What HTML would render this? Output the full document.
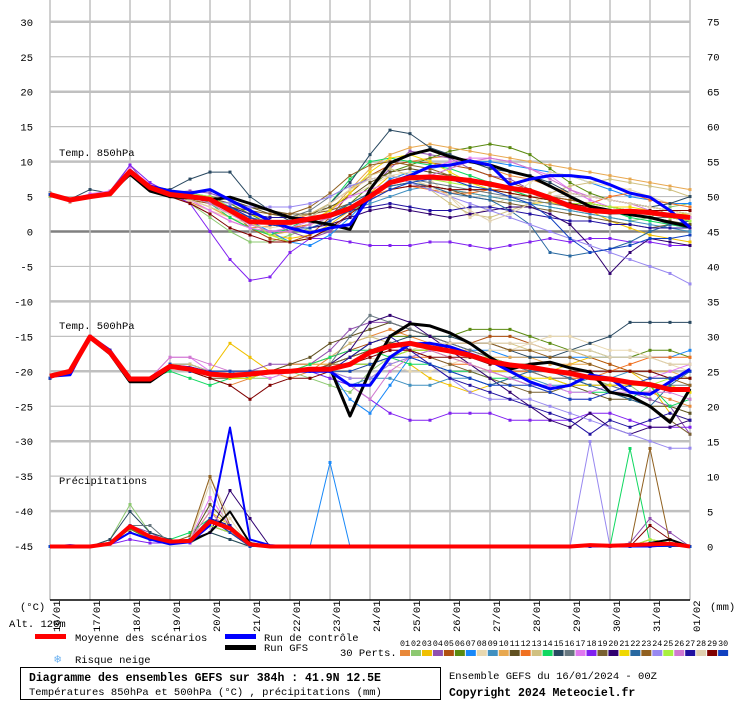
<!DOCTYPE html>
<html><head><meta charset="utf-8">
<style>
html,body{margin:0;padding:0;background:#fff;}
body{width:740px;height:700px;overflow:hidden;position:relative;font-family:"Liberation Mono",monospace;}
svg text{font-family:"Liberation Mono","DejaVu Sans Mono",monospace;}
</style></head>
<body>
<svg id="chart" width="740" height="700" viewBox="0 0 740 700" xmlns="http://www.w3.org/2000/svg">
<g id="grid"></g>
<g id="axes"></g>
<g id="series"></g>
<text x="59" y="156" font-size="10.5">Temp. 850hPa</text>
<text x="59" y="329" font-size="10.5">Temp. 500hPa</text>
<text x="59" y="484" font-size="10.5">Précipitations</text>
<text x="20" y="610" font-size="10.5">(°C)</text>
<text x="710" y="610" font-size="10.5">(mm)</text>
<text x="9" y="627" font-size="10.5">Alt. 120m</text>
<g>
<rect x="35" y="634" width="31" height="5" fill="#ff0000"/>
<text x="75" y="641" font-size="10.5">Moyenne des scénarios</text>
<rect x="225" y="634" width="31" height="5" fill="#0000ff"/>
<text x="264" y="641" font-size="10.5">Run de contrôle</text>
<rect x="225" y="645" width="31" height="5" fill="#000"/>
<text x="264" y="651" font-size="10.5">Run GFS</text>
<text x="54" y="663" font-size="12" fill="#6ab0f0">❄</text>
<text x="75" y="663" font-size="10.5">Risque neige</text>
<text x="340" y="656" font-size="10.5">30 Perts.</text>
<g id="pertlegend"></g>
</g>
<rect x="20.5" y="667.5" width="420" height="32" fill="none" stroke="#000"/>
<text x="29" y="681" font-size="11.5" font-weight="bold">Diagramme des ensembles GEFS sur 384h : 41.9N 12.5E</text>
<text x="29" y="695" font-size="10.5">Températures 850hPa et 500hPa (°C) , précipitations (mm)</text>
<text x="449" y="679" font-size="10.5">Ensemble GEFS du 16/01/2024 - 00Z</text>
<text x="449" y="696" font-size="11.5" font-weight="bold">Copyright 2024 Meteociel.fr</text>
</svg>
<script>
const dateLabels=['16/01','17/01','18/01','19/01','20/01','21/01','22/01','23/01','24/01','25/01','26/01','27/01','28/01','29/01','30/01','31/01','01/02'];
const leftTicks=[30,25,20,15,10,5,0,-5,-10,-15,-20,-25,-30,-35,-40,-45];
const rightTicks=[75,70,65,60,55,50,45,40,35,30,25,20,15,10,5,0];
const pertColors=['#e8883a','#8cc870','#f0c000','#9050b0','#b05010','#5a8a10','#1888f8','#e8d8b0','#4090c0','#e8a850','#605020','#f07020','#d0c080','#10d860','#284860','#687880','#e078f0','#8020f0','#786030','#300070','#f0d800','#2868a0','#906020','#9888f0','#a8f040','#d078d0','#2010a0','#e0d0b0','#800000','#1040c0'];

const t850Mean=[5.3,4.5,5.0,5.4,8.6,6.3,5.3,5.0,4.6,3.0,1.4,1.3,1.3,1.8,2.3,3.3,5.0,7.0,7.7,7.8,7.6,7.3,6.8,6.2,5.8,4.8,3.6,3.0,2.8,2.9,2.7,2.3,2.0];
const t850Control=[5.3,4.6,5.1,5.3,8.5,6.5,5.8,5.5,6.0,4.5,3.0,1.5,0.5,-0.2,0.5,1.0,5.0,7.0,8.0,9.3,9.5,10.1,9.5,6.7,7.5,8.0,8.0,7.7,6.7,5.5,4.9,3.0,0.6];
const t850Gfs=[5.4,4.5,5.0,5.5,8.2,5.8,5.0,4.8,4.5,4.9,4.0,3.0,2.0,1.5,1.0,0.3,6.0,9.8,11.0,11.7,10.7,10.0,9.5,8.6,7.9,6.5,5.0,3.6,3.0,2.4,2.0,1.3,0.7];
const t850Perts=[
[5.5,4.2,5.2,5.6,8.0,6.0,5.0,4.2,3.0,1.5,0.5,0.8,1.5,2.5,4.0,6.0,8.0,9.5,10.0,10.5,10.8,10.0,9.0,8.0,7.5,6.5,5.5,5.0,4.5,4.0,3.5,3.0,2.5],
[5.0,4.4,5.0,5.2,8.2,6.5,5.5,4.0,2.0,0.0,-1.5,-1.5,-0.5,0.5,1.5,3.0,5.5,6.5,7.0,6.5,6.0,5.5,5.0,4.5,4.0,3.5,3.0,2.5,2.0,1.5,2.0,3.5,4.0],
[5.4,4.6,5.1,5.5,8.6,6.4,5.2,4.5,3.5,2.0,0.5,-0.5,-1.0,-0.5,1.0,3.0,5.5,8.0,7.5,6.5,6.0,5.5,5.0,4.5,4.0,4.2,3.5,3.0,1.5,0.5,-0.5,-1.0,-1.5],
[5.2,4.3,5.3,5.8,9.5,6.2,5.6,5.8,5.5,4.5,3.0,1.5,0.0,-1.0,0.0,2.5,6.0,9.0,11.5,11.0,10.5,9.0,8.0,7.5,6.0,5.0,4.0,3.0,2.5,2.5,2.0,1.0,0.5],
[5.5,4.5,5.0,5.3,8.4,6.1,5.2,5.0,4.5,3.0,0.5,-1.0,-1.5,-0.5,2.0,5.5,8.0,9.5,10.0,9.8,9.5,9.0,8.0,7.0,6.0,5.0,4.5,4.0,3.5,3.0,3.0,2.5,2.0],
[5.3,4.5,5.0,5.4,8.5,6.2,5.3,5.0,4.8,4.0,2.5,1.0,0.5,1.0,2.0,4.0,6.5,8.5,9.5,10.5,11.5,12.0,12.5,12.0,11.0,9.0,7.0,5.5,4.5,4.0,3.5,3.0,2.5],
[5.2,4.4,5.1,5.3,8.8,6.5,5.8,5.5,5.0,3.5,1.5,0.0,-1.5,-2.0,-0.5,2.0,5.0,7.5,8.5,9.0,9.5,10.0,10.0,9.5,9.0,8.5,8.0,7.0,6.0,5.0,4.5,4.0,4.0],
[5.4,4.6,5.0,5.5,8.3,6.0,5.0,4.0,3.0,2.0,1.0,0.5,1.0,2.0,3.5,5.0,6.5,8.0,8.5,7.5,5.0,2.0,3.5,5.0,7.0,8.5,8.0,7.0,6.5,6.0,5.0,4.0,3.5],
[5.3,4.5,5.0,5.4,8.5,6.3,5.3,5.0,4.5,3.0,2.0,1.5,1.0,1.5,2.0,3.0,4.0,5.0,6.0,6.5,6.0,5.5,5.0,4.5,4.0,3.5,3.0,2.5,2.0,1.5,1.0,0.5,0.0],
[5.5,4.7,5.2,5.6,8.7,6.3,5.0,4.5,3.5,2.0,0.5,-0.5,0.0,1.0,3.0,6.0,9.0,11.0,12.0,12.5,12.0,11.5,11.0,10.5,10.0,9.5,9.0,8.5,8.0,7.5,7.0,6.5,6.0],
[5.3,4.6,5.1,5.5,8.4,6.2,5.4,5.2,5.0,4.5,3.5,2.5,2.0,2.5,3.5,5.0,7.0,8.5,9.0,8.5,8.0,7.5,6.5,6.0,5.0,4.5,4.0,3.5,3.0,2.5,2.0,1.5,1.0],
[5.4,4.4,5.0,5.3,8.6,6.0,5.0,4.5,4.0,3.0,2.0,1.0,0.5,1.0,2.0,3.5,5.0,6.0,6.5,6.0,5.5,5.5,6.0,6.0,5.5,5.0,4.5,4.0,5.0,5.5,4.5,4.0,3.5],
[5.2,4.5,5.0,5.5,8.5,6.3,5.3,5.0,4.5,3.5,2.5,2.0,2.0,2.5,4.0,6.0,8.0,9.0,8.0,6.0,4.0,2.5,2.0,3.0,4.0,5.5,6.5,7.0,7.5,7.0,6.5,6.0,5.0],
[5.3,4.5,5.2,5.6,8.9,6.6,5.6,5.5,4.0,2.0,0.5,-0.5,0.5,2.0,4.0,7.5,10.0,10.5,10.0,9.5,9.0,8.0,7.0,6.0,5.0,4.5,4.0,3.5,3.0,2.0,1.5,1.0,0.5],
[5.5,4.6,6.0,5.5,8.5,6.5,6.0,7.5,8.5,8.5,5.0,3.0,1.5,2.0,4.0,7.0,11.0,14.5,14.0,12.0,11.0,10.0,9.0,8.5,8.0,7.0,5.5,5.0,4.5,4.0,3.5,4.0,5.0],
[5.3,4.5,5.0,5.4,8.5,6.3,5.3,5.0,4.6,3.5,2.5,2.0,2.0,3.0,5.0,6.5,7.5,8.0,7.5,7.0,6.5,6.0,5.5,5.0,4.5,4.0,3.5,3.0,2.5,2.5,2.0,2.0,1.5],
[5.4,4.6,5.4,5.8,9.0,6.8,5.5,4.5,3.0,1.5,0.5,0.0,0.5,1.5,3.0,5.0,6.0,7.0,8.0,9.0,10.0,10.5,10.5,10.0,9.0,8.0,6.0,4.5,3.5,3.0,2.5,2.0,1.5],
[5.3,4.4,5.2,5.6,9.5,7.0,5.5,4.0,0.0,-4.0,-7.0,-6.5,-3.0,-1.0,-1.0,-1.5,-2.0,-2.0,-2.0,-1.5,-1.5,-2.0,-2.5,-2.0,-1.5,-1.0,-1.5,-1.0,-1.0,-1.5,-1.5,-2.0,-2.0],
[5.4,4.5,5.0,5.4,8.4,6.2,5.4,5.2,4.8,4.0,3.5,3.0,2.5,2.5,3.0,4.0,5.5,6.5,7.0,6.5,6.0,5.0,4.5,4.0,3.5,3.0,2.5,2.0,1.5,1.0,0.5,1.0,1.5],
[5.3,4.5,5.0,5.4,8.6,6.4,5.4,5.1,4.6,3.5,2.0,1.0,0.5,0.5,1.0,2.0,3.0,3.5,3.0,2.5,2.0,2.5,3.0,3.5,3.5,2.5,1.0,-2.0,-6.0,-3.0,-1.0,-1.5,-2.0],
[5.4,4.6,5.1,5.5,8.5,6.3,5.3,5.0,4.5,3.5,2.5,1.5,1.0,1.5,3.0,5.5,8.5,10.5,11.0,10.0,8.5,7.0,6.0,5.5,5.0,4.5,4.0,4.0,3.5,3.5,3.0,2.5,2.5],
[5.3,4.5,5.0,5.4,8.5,6.3,5.3,5.0,4.5,3.0,1.5,1.0,1.0,1.5,2.5,4.0,5.5,6.5,7.0,6.5,5.5,5.0,4.5,3.0,1.0,-3.0,-3.5,-3.0,-2.5,-1.5,0.0,1.0,1.5],
[5.4,4.6,5.1,5.5,8.5,6.1,5.0,4.5,4.0,3.5,3.0,2.5,2.5,3.5,5.5,8.0,9.5,10.0,9.5,9.0,8.0,7.0,6.5,6.0,5.5,5.0,4.5,4.0,3.5,3.0,2.5,2.0,1.5],
[5.3,4.5,5.0,5.4,8.6,6.4,5.4,5.0,4.5,4.0,3.5,3.5,3.5,4.0,5.0,6.5,7.5,8.0,7.0,6.0,5.0,4.0,3.0,2.0,1.0,0.0,-1.0,-2.0,-3.0,-4.0,-5.0,-6.0,-7.5],
[5.2,4.4,5.1,5.5,8.5,6.5,5.5,5.5,5.0,3.5,1.5,-0.5,-1.5,-1.0,0.5,2.5,5.0,7.0,8.0,7.5,7.0,6.5,6.0,5.5,5.0,4.5,4.0,4.0,3.5,3.0,2.5,2.0,1.5],
[5.4,4.6,5.0,5.5,8.5,6.3,5.3,5.0,4.0,2.5,1.0,0.0,0.0,1.0,2.0,3.5,5.0,7.0,8.0,8.0,9.0,10.0,10.5,10.0,9.0,7.5,6.0,5.0,4.5,4.0,3.0,2.5,2.0],
[5.3,4.5,5.0,5.4,8.5,6.2,5.3,5.0,4.5,3.5,2.5,2.0,2.0,2.0,2.5,3.0,3.5,4.0,3.5,3.0,3.0,3.5,3.5,3.0,2.5,2.0,1.5,1.5,1.0,1.0,0.5,0.5,0.5],
[5.4,4.6,5.1,5.5,8.4,6.2,5.2,4.5,3.5,2.5,1.5,1.0,1.0,2.0,4.0,6.0,7.5,8.0,7.5,6.5,5.0,3.0,1.5,2.5,4.0,5.0,5.5,5.0,4.5,4.0,3.5,3.0,2.5],
[5.3,4.5,5.0,5.4,8.2,6.0,5.0,4.0,2.5,0.5,-0.5,-1.5,-1.5,-1.0,0.5,2.5,4.5,6.0,6.5,6.5,6.0,6.0,6.0,5.5,5.0,4.5,4.0,3.5,3.0,3.0,3.0,3.0,3.0],
[5.3,4.5,5.0,5.4,8.6,6.4,5.4,5.0,4.5,3.5,2.0,1.0,0.5,0.5,1.5,3.0,4.5,6.0,7.0,7.5,7.5,6.5,6.0,5.0,4.0,2.0,-1.0,-3.0,-2.5,-2.0,-1.0,-1.0,-0.5]
];

const t500Mean=[-20.7,-20,-15.1,-17.3,-21.1,-21.1,-19.3,-19.7,-20.4,-20.6,-20.4,-20.1,-20,-19.7,-19.7,-19,-17.3,-16.4,-16,-16.6,-17.1,-17.7,-18.6,-19.1,-19.4,-19.9,-20.3,-20.9,-21.1,-21.6,-21.9,-22.6,-22.6];
const t500Control=[-20.7,-20.5,-15,-17,-21.2,-21,-19.2,-19.5,-20.2,-20.6,-20.5,-20.2,-20,-20,-20,-22,-22,-18,-16.1,-16,-16.5,-17.5,-18.5,-20,-21.5,-22.5,-22,-20.5,-21,-23,-23.3,-21.5,-19.7];
const t500Gfs=[-20.7,-20,-15.2,-17.5,-21.5,-21.5,-19.5,-19.5,-20.3,-20.5,-20.5,-20.2,-20,-19.8,-19.5,-26.4,-20,-15,-13.2,-13.5,-14.5,-16,-18,-19.7,-19,-18.7,-19.5,-20.1,-23,-23.5,-25,-27.3,-22.5];
const t500Perts=[
[-21,-20,-15,-17,-21,-21,-19,-20,-21,-22,-21,-20,-21,-20,-18,-16,-15,-14,-15,-16,-17,-18,-18,-19,-20,-20,-21,-21,-22,-23,-23,-24,-25],
[-21,-20,-15,-17,-21,-21,-19,-20,-20,-21,-21,-21,-20,-21,-22,-23,-20,-18,-17,-17,-18,-19,-20,-21,-22,-23,-22,-21,-22,-22,-24,-25,-26],
[-21,-20,-15,-17,-21,-21,-19,-19,-20,-16,-18,-20,-20,-19,-19,-18,-17,-18,-19,-21,-22,-23,-22,-21,-20,-20,-19,-18,-19,-20,-22,-26,-27],
[-21,-20,-15,-17,-21,-21,-19,-20,-20,-20,-20,-19,-19,-19,-17,-14,-13,-13,-14,-15,-16,-17,-18,-19,-20,-20,-21,-22,-22,-23,-24,-25,-29],
[-21,-20,-15,-17,-21,-21,-19,-19,-20,-20,-20,-20,-19,-19,-18,-17,-16,-15,-14,-15,-16,-16,-15,-15,-16,-17,-17,-18,-19,-20,-20,-21,-21],
[-21,-20,-15,-17,-21,-21,-19,-20,-20,-21,-20,-20,-20,-20,-19,-18,-16,-15,-15,-15,-15,-14,-14,-14,-15,-16,-17,-17,-18,-18,-17,-17,-18],
[-21,-20,-15,-17,-21,-21,-19,-19,-20,-20,-21,-20,-20,-20,-20,-24,-26,-22,-18,-17,-16,-17,-17,-18,-18,-18,-18,-18,-18,-18,-18,-18,-17],
[-21,-20,-15,-17,-21,-21,-19,-20,-20,-20,-20,-21,-20,-20,-20,-19,-18,-19,-20,-20,-19,-18,-17,-17,-16,-15,-15,-16,-17,-17,-18,-19,-20],
[-21,-20,-15,-17,-21,-21,-19,-20,-20,-21,-20,-20,-20,-20,-21,-22,-21,-21,-22,-22,-21,-21,-22,-21,-21,-22,-22,-21,-21,-20,-20,-21,-21],
[-21,-20,-15,-17,-21,-21,-19,-20,-20,-20,-20,-20,-19,-19,-19,-18,-17,-16,-16,-17,-17,-17,-18,-18,-18,-19,-19,-19,-20,-20,-20,-20,-21],
[-21,-20,-15,-17,-21,-21,-19,-20,-21,-21,-20,-20,-19,-18,-16,-15,-14,-13,-14,-15,-16,-17,-18,-19,-20,-21,-22,-23,-24,-24,-25,-25,-26],
[-21,-20,-15,-17,-21,-21,-19,-20,-20,-20,-20,-20,-20,-20,-20,-21,-21,-19,-18,-18,-19,-19,-20,-20,-20,-21,-21,-21,-20,-19,-18,-18,-18],
[-21,-20,-15,-17,-21,-21,-19,-19,-20,-20,-20,-20,-20,-19,-18,-16,-15,-16,-17,-17,-16,-16,-16,-16,-17,-17,-17,-18,-18,-18,-18,-19,-19],
[-21,-20,-15,-17,-21,-21,-20,-21,-22,-21,-21,-20,-20,-19,-18,-17,-17,-18,-19,-19,-20,-20,-21,-21,-22,-22,-23,-23,-23,-24,-22,-25,-24],
[-21,-20,-15,-17,-21,-21,-19,-20,-20,-20,-20,-20,-20,-20,-19,-18,-17,-16,-15,-15,-15,-16,-16,-17,-18,-18,-17,-16,-15,-13,-13,-13,-13],
[-21,-20,-15,-17,-21,-21,-19,-20,-20,-20,-20,-20,-20,-20,-19,-15,-12,-13,-14,-15,-16,-17,-18,-19,-20,-21,-21,-22,-22,-23,-23,-22,-22],
[-21,-20,-15,-17,-21,-21,-18,-18,-20,-20,-20,-21,-20,-20,-20,-19,-18,-17,-17,-17,-18,-19,-20,-21,-22,-22,-23,-23,-22,-22,-21,-20,-19],
[-21,-20,-15,-17,-21,-21,-19,-20,-20,-20,-20,-20,-20,-20,-21,-22,-24,-26,-27,-27,-26,-26,-26,-27,-27,-27,-27,-26,-26,-27,-28,-28,-28],
[-21,-20,-15,-17,-21,-21,-19,-20,-20,-20,-20,-20,-20,-20,-19,-18,-17,-16,-17,-18,-19,-20,-21,-22,-23,-23,-22,-22,-23,-24,-25,-27,-29],
[-21,-20,-15,-17,-21,-21,-19,-20,-20,-20,-20,-20,-20,-20,-19,-17,-13,-12,-13,-15,-17,-19,-21,-23,-25,-27,-28,-26,-28,-29,-28,-28,-27],
[-21,-20,-15,-17,-21,-21,-19,-20,-20,-21,-21,-20,-20,-20,-20,-20,-19,-18,-17,-17,-18,-19,-20,-20,-21,-21,-22,-22,-22,-22,-22,-22,-23],
[-21,-20,-15,-17,-21,-21,-19,-20,-20,-20,-20,-20,-20,-20,-20,-19,-19,-18,-18,-19,-20,-21,-22,-21,-20,-20,-21,-22,-23,-24,-25,-22,-20],
[-21,-20,-15,-17,-21,-21,-19,-20,-20,-20,-20,-20,-20,-20,-19,-19,-19,-18,-17,-17,-16,-16,-16,-17,-17,-18,-18,-19,-20,-20,-21,-21,-22],
[-21,-20,-15,-17,-21,-21,-19,-20,-20,-20,-20,-20,-20,-20,-20,-21,-21,-19,-18,-19,-21,-23,-24,-24,-24,-25,-26,-27,-28,-29,-30,-31,-31],
[-21,-20,-15,-17,-21,-21,-19,-20,-20,-20,-20,-20,-20,-20,-20,-19,-19,-18,-17,-17,-17,-18,-18,-19,-19,-20,-20,-21,-21,-22,-22,-21,-21],
[-21,-20,-15,-17,-21,-21,-18,-18,-19,-20,-20,-20,-20,-20,-20,-22,-24,-20,-18,-17,-18,-19,-20,-21,-22,-23,-24,-24,-23,-23,-23,-23,-24],
[-21,-20,-15,-17,-21,-21,-19,-20,-20,-20,-20,-20,-20,-20,-20,-18,-16,-15,-17,-19,-21,-22,-23,-24,-25,-26,-27,-29,-27,-28,-27,-26,-27],
[-21,-20,-15,-17,-21,-21,-19,-20,-20,-20,-20,-20,-20,-20,-20,-19,-18,-17,-17,-16,-16,-16,-16,-16,-16,-17,-17,-17,-18,-18,-18,-19,-19],
[-21,-20,-15,-17,-21,-21,-19,-20,-21,-22,-24,-22,-21,-21,-20,-19,-18,-17,-17,-18,-18,-18,-19,-19,-19,-20,-20,-20,-20,-20,-20,-21,-21],
[-21,-20,-15,-17,-21,-21,-19,-20,-20,-20,-20,-20,-20,-20,-20,-20,-19,-18,-18,-19,-20,-21,-22,-22,-22,-23,-24,-24,-23,-22,-21,-21,-20]
];

const precipMean=[0,0,0,0.4,2.9,1.4,0.7,0.8,3.6,2.6,0.3,0,0,0,0,0,0,0,0,0,0,0,0,0,0,0,0,0.2,0.1,0.2,0.3,0.4,0];
const precipControl=[0,0.2,0,0.3,2,1,0.3,0.6,3,17,1,0.2,0,0,0,0,0,0,0,0,0,0,0,0,0,0,0,0,0,0,0,0.2,0];
const precipGfs=[0,0,0,0.5,3,1.5,0.5,0.7,2,5,0.5,0,0,0,0,0,0,0,0,0,0,0,0,0,0,0,0,0,0,0,0.5,1,0];
const precipPerts=[
[0,0,0,0.5,3,1,0.5,1,4,2,0,0,0,0,0,0,0,0,0,0,0,0,0,0,0,0,0,0,0,0,0.5,0.3,0],
[0,0,0,1,6,2,1,0.5,2,1,0,0,0,0,0,0,0,0,0,0,0,0,0,0,0,0,0,0,0,0,1,0.5,0],
[0,0,0,0.3,2,1,0.5,1,5,3,0,0,0,0,0,0,0,0,0,0,0,0,0,0,0,0,0,0,0,0,0.5,0,0],
[0,0,0,0.5,3,2,0.5,0.5,3,2,0,0,0,0,0,0,0,0,0,0,0,0,0,0,0,0,0,0,0,0.5,4,2,0],
[0,0,0,0.5,2,1,0.5,1,4,3,0.5,0,0,0,0,0,0,0,0,0,0,0,0,0,0,0,0,0,0,0,0,0,0],
[0,0,0,0.3,2.5,1,0.5,1,3,2,0,0,0,0,0,0,0,0,0,0,0,0,0,0,0,0,0,0,0,0,0.5,0,0],
[0,0,0,0.5,3,1,0.5,0.5,4,2,0,0,0,0,12,0,0,0,0,0,0,0,0,0,0,0,0,0,0,0,0,0,0],
[0,0,0,0.5,2,1,0.5,1,10,4,0,0,0,0,0,0,0,0,0,0,0,0,0,0,0,0,0,0,0,0,0,0,0],
[0,0,0,0.5,3,1.5,0.5,1,3,2,0,0,0,0,0,0,0,0,0,0,0,0,0,0,0,0,0,0,0,0,0,0,0],
[0,0,0,0.3,2,1,0.5,1,5,2,0,0,0,0,0,0,0,0,0,0,0,0,0,0,0,0,0,0,0,0,0,0,0],
[0,0,0,0.5,3,1,0.5,1,6,3,0,0,0,0,0,0,0,0,0,0,0,0,0,0,0,0,0,0,0,0,0,0,0],
[0,0,0,0.5,3,1,0.5,1,4,2,0.5,0,0,0,0,0,0,0,0,0,0,0,0,0,0,0,0,0,0,0,1,0.5,0],
[0,0,0,0.3,2,1,0.5,1,3,2,0,0,0,0,0,0,0,0,0,0,0,0,0,0,0,0,0,0,0,0,0,0,0],
[0,0,0,0.5,2,1,1,2,4,2,0,0,0,0,0,0,0,0,0,0,0,0,0,0,0,0,0,0,0,14,0.5,0,0],
[0,0,0,1,5,2,1,0.5,2,1,0,0,0,0,0,0,0,0,0,0,0,0,0,0,0,0,0,0,0,0,0,0,0],
[0,0,0,0.5,3,3,0.5,0.5,3,2,0,0,0,0,0,0,0,0,0,0,0,0,0,0,0,0,0,0,0,0,0,0,0],
[0,0,0,0.5,2,1,0.5,1,7,3,0,0,0,0,0,0,0,0,0,0,0,0,0,0,0,0,0,0,0,0,0,0,0],
[0,0,0,0.3,1,0.5,0.5,0.5,3,2,0,0,0,0,0,0,0,0,0,0,0,0,0,0,0,0,0,0,0,0,0,0,0],
[0,0,0,0.5,2,1,0.5,1,4,2,0,0,0,0,0,0,0,0,0,0,0,0,0,0,0,0,0,0,0,0,0,0,0],
[0,0,0,0.5,3,1,0.5,1,2,8,4,0,0,0,0,0,0,0,0,0,0,0,0,0,0,0,0,0,0,0,0,0,0],
[0,0,0,0.5,2,1,0.5,1,5,2,0,0,0,0,0,0,0,0,0,0,0,0,0,0,0,0,0,0,0,0,0,0,0],
[0,0,0,0.5,3,1,0.5,1,4,3,0,0,0,0,0,0,0,0,0,0,0,0,0,0,0,0,0,0,0,0,0,0,0],
[0,0,0,0.5,2,1,0.5,1.5,10,3,0,0,0,0,0,0,0,0,0,0,0,0,0,0,0,0,0,0,0,0,14,0.5,0],
[0,0,0,0.3,2,1,0.5,1,3,2,0,0,0,0,0,0,0,0,0,0,0,0,0,0,0,0,0,15,0,0,0,0,0],
[0,0,0,0.5,2,1,0.5,1,3,2,0,0,0,0,0,0,0,0,0,0,0,0,0,0,0,0,0,0,0,0,1,0.5,0],
[0,0,0,0.3,2,1,0.5,1,5,2,0,0,0,0,0,0,0,0,0,0,0,0,0,0,0,0,0,0,0,0,0,0,0],
[0,0,0,0.5,3,1,0.5,1,4,3,0,0,0,0,0,0,0,0,0,0,0,0,0,0,0,0,0,0,0,0,0,0,0],
[0,0,0,0.5,2,1,0.5,1,9,2,0,0,0,0,0,0,0,0,0,0,0,0,0,0,0,0,0,0,0,0,0,0,0],
[0,0,0,0.5,2,1,0.5,1,4,2,0,0,0,0,0,0,0,0,0,0,0,0,0,0,0,0,0,0,0,0,3,1,0],
[0,0,0,0.5,3,1,0.5,1,4,2,0,0,0,0,0,0,0,0,0,0,0,0,0,0,0,0,0,0,0,0,0,0,0]
];

const NS='http://www.w3.org/2000/svg';
const X0=50, X1=690, STEPS=32;
function xPos(i){return X0+(X1-X0)*i/STEPS;}
function xDay(d){return X0+40*d;}
function tY(v){return 231.5-v*6.99;}
function pY(mm){return 546.5-mm*7;}
function mk(tag,attrs,parent){const e=document.createElementNS(NS,tag);for(const k in attrs)e.setAttribute(k,attrs[k]);parent.appendChild(e);return e;}

const grid=document.getElementById('grid');
leftTicks.forEach(function(v){
  const y=tY(v);
  const major=(v%10===0);
  const ln=mk('line',{x1:X0,x2:X1,y1:y,y2:y,stroke:v===0?'#808080':'#c0c0c0','stroke-width':v===0?2.5:(major?2.5:1.2)},grid);
  
  
});
dateLabels.forEach(function(d,i){
  const x=xDay(i);
  const ln=mk('line',{x1:x,x2:x,y1:0,y2:600,stroke:'#c0c0c0','stroke-width':1.5},grid);
  
  
});

const axes=document.getElementById('axes');
const base=mk('line',{x1:X0,x2:X1,y1:600,y2:600,stroke:'#000','stroke-width':1.5},axes);


leftTicks.forEach(function(v){
  const t=mk('text',{x:33,y:tY(v)+4,'font-size':10.5,'text-anchor':'end'},axes);
  t.textContent=String(v);
  
  
});
rightTicks.forEach(function(v){
  const t=mk('text',{x:707,y:pY(v)+4,'font-size':10.5},axes);
  t.textContent=String(v);
  
  
});
dateLabels.forEach(function(d,i){
  const x=xDay(i)+10;
  const t=mk('text',{x:x,y:632,'font-size':10.5,transform:'rotate(-90 '+x+' 632)'},axes);
  t.textContent=d;
  
  
});

const series=document.getElementById('series');
function drawLine(vals,yf,color,w,name,markers){
  const pts=vals.map(function(v,i){return xPos(i).toFixed(1)+','+yf(v).toFixed(1);}).join(' ');
  const g=mk('g',{},series);
  
  
  const pl=mk('polyline',{points:pts,fill:'none',stroke:color,'stroke-width':w,'stroke-linejoin':'round'},g);
  
  
  if(markers){
    vals.forEach(function(v,i){
      const r=mk('rect',{x:xPos(i)-1.5,y:yf(v)-1.5,width:3,height:3,fill:color},g);
      
      
    });
  }
}
t850Perts.forEach(function(s,k){drawLine(s,tY,pertColors[k],1,'t850-pert-'+(k+1),true);});
t500Perts.forEach(function(s,k){drawLine(s,tY,pertColors[k],1,'t500-pert-'+(k+1),true);});
precipPerts.forEach(function(s,k){drawLine(s,pY,pertColors[k],1,'precip-pert-'+(k+1),true);});
drawLine(t850Gfs,tY,'#000',3,'t850-gfs',false);
drawLine(t500Gfs,tY,'#000',3,'t500-gfs',false);
drawLine(precipGfs,pY,'#000',2,'precip-gfs',false);
drawLine(t850Control,tY,'#0000ff',3,'t850-control',false);
drawLine(t500Control,tY,'#0000ff',3,'t500-control',false);
drawLine(precipControl,pY,'#0000ff',2,'precip-control',false);
drawLine(t850Mean,tY,'#ff0000',5,'t850-mean',false);
drawLine(t500Mean,tY,'#ff0000',5,'t500-mean',false);
drawLine(precipMean,pY,'#ff0000',4,'precip-mean',false);

const pl=document.getElementById('pertlegend');
pertColors.forEach(function(c,k){
  const x=400+k*10.97;
  const r=mk('rect',{x:x,y:650,width:10,height:6,fill:c},pl);
  
  
  const t=mk('text',{x:x,y:646,'font-size':8,textLength:10,lengthAdjust:'spacingAndGlyphs'},pl);
  t.textContent=(k+1<10?'0':'')+(k+1);
  
  
});
</script>
</body></html>
